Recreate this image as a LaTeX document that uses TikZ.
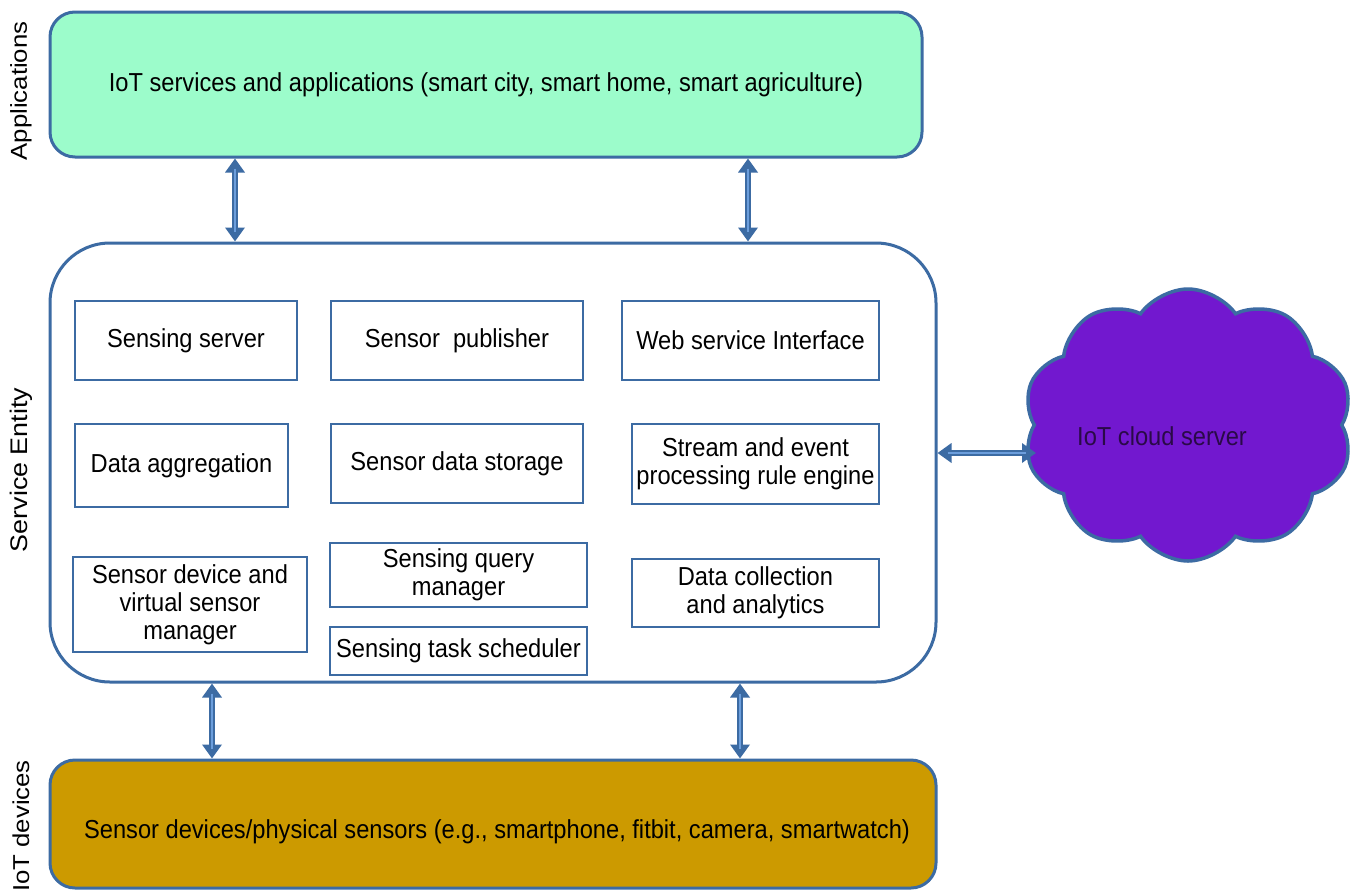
\documentclass[tikz,border=0pt]{standalone}
\usepackage{fontspec}
\setmainfont{Liberation Sans}
\newfontfamily\bodyfont[FakeStretch=0.91]{Liberation Sans}
\newfontfamily\sidefont[FakeStretch=1.12]{Liberation Sans}
\usetikzlibrary{shapes.symbols,arrows.meta}
\definecolor{edge}{HTML}{3C6BA3}
\definecolor{edgelight}{HTML}{6C9EDC}
\definecolor{appfill}{HTML}{9CFCCB}
\definecolor{devfill}{HTML}{CC9A00}
\definecolor{cloudfill}{HTML}{7218CF}
\definecolor{cloudtext}{HTML}{2A0A48}
\tikzset{
  x=1pt, y=-1pt,
  body/.style={font=\bodyfont\fontsize{26}{28}\selectfont},
  layer/.style={draw=edge, line width=3pt, rounded corners=#1},
  part/.style={draw=edge, line width=2.6pt, align=center, inner sep=0pt, body},
  side/.style={rotate=90, font=\sidefont\fontsize{#1}{28}\selectfont},
  biarrow/.style={draw=edge, line width=6pt,
    {Triangle[length=14pt,width=19pt]}-{Triangle[length=14pt,width=19pt]}},
  bicore/.style={draw=edgelight, line width=1.8pt, shorten <=10pt, shorten >=10pt},
}
\begin{document}
\begin{tikzpicture}
\useasboundingbox[fill=white] (0,0) rectangle (1357,892);

% three layers
\node[layer=25pt, fill=appfill, minimum width=872pt, minimum height=145pt] (app) at (486,84.5) {};
\node[body] (apptext) at (486,85)
  {IoT services and applications (smart city, smart home, smart agriculture)};
\node[layer=60pt, fill=white, minimum width=886pt, minimum height=439pt] (se) at (493,462.5) {};
\node[layer=25pt, fill=devfill, minimum width=886pt, minimum height=128pt] (dev) at (493,824) {};
\node[body] (devtext) at (497,832)
  {Sensor devices/physical sensors (e.g., smartphone, fitbit, camera, smartwatch)};

% layer captions
\node[side=23] (lapp) at (21,91) {Applications};
\node[side=24] (lse) at (21,470) {Service Entity};
\node[side=23] (ldev) at (21,826) {IoT devices};

% service entity components
\node[part, minimum width=222pt, minimum height=79pt] (p1) at (186,340.5) {Sensing server};
\node[part, minimum width=252pt, minimum height=79pt] (p2) at (457,340.5) {Sensor\ \ publisher};
\node[part, minimum width=257pt, minimum height=79pt] (p3) at (750.5,340.5) {Web service Interface};
\node[part, minimum width=213pt, minimum height=83pt] (p4) at (181.5,465.5) {Data aggregation};
\node[part, minimum width=252pt, minimum height=79pt] (p5) at (457,463.5) {Sensor data storage};
\node[part, minimum width=247pt, minimum height=80pt] (p6) at (755.5,464) {Stream and event\\processing rule engine};
\node[part, minimum width=234pt, minimum height=95pt] (p7) at (190,604.5) {Sensor device and\\virtual sensor\\manager};
\node[part, minimum width=257pt, minimum height=64pt] (p8) at (458.5,575) {Sensing query\\manager};
\node[part, minimum width=257pt, minimum height=48pt] (p9) at (458.5,651) {Sensing task scheduler};
\node[part, minimum width=247pt, minimum height=68pt] (p10) at (755.5,593) {Data collection\\and analytics};

% cloud server
\node[cloud, cloud puffs=10, cloud puff arc=110, aspect=1.25, draw=edge, line width=3.5pt,
  fill=cloudfill, minimum width=330pt, minimum height=272pt, inner sep=0pt] (cloud) at (1188,425) {};
\node[text=cloudtext, body] (cloudlabel) at (1162,436) {IoT cloud server};
\coordinate (cin) at (1036,453);

% connectors
\foreach \xx in {235,748} {
  \draw[biarrow] (\xx,0 |- app.south) -- (\xx,0 |- se.north);
  \draw[bicore] (\xx,0 |- app.south) -- (\xx,0 |- se.north);
}
\foreach \xx in {212,740} {
  \draw[biarrow] (\xx,0 |- se.south) -- (\xx,0 |- dev.north);
  \draw[bicore] (\xx,0 |- se.south) -- (\xx,0 |- dev.north);
}
\draw[biarrow] (se.east |- cin) -- (cin);
\draw[bicore] (se.east |- cin) -- (cin);
\end{tikzpicture}
\end{document}
